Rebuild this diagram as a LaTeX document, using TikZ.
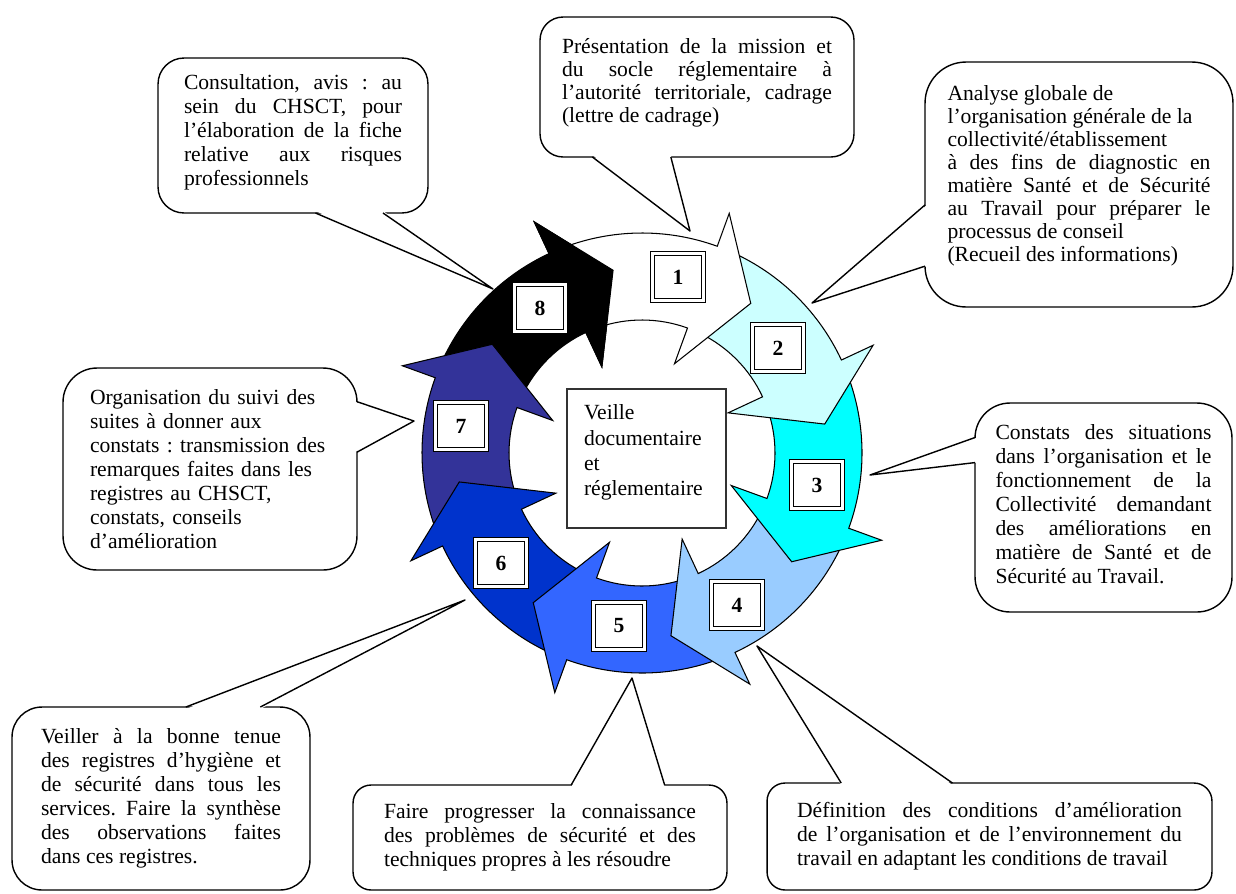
\documentclass[tikz,border=0pt]{standalone}
\usepackage{fontspec}
\setmainfont{Liberation Serif}
\usetikzlibrary{calc}
\definecolor{cyanpale}{HTML}{CCFFFF}
\definecolor{cyanvif}{HTML}{00FFFF}
\definecolor{bleuciel}{HTML}{99CCFF}
\definecolor{bleumoyen}{HTML}{3366FF}
\definecolor{bleufonce}{HTML}{0033CC}
\definecolor{indigo}{HTML}{333399}
\newcommand\texte{\fontsize{12.3}{13.6}\selectfont}
\newcommand\serre{\fontsize{12.3}{13.1}\selectfont}
\newcommand\remonte[1]{\par\kern#1\hrule height0pt width0pt}
\frenchspacing
\pretolerance=10000
\tolerance=10000
\hbadness=10000
\begin{document}
\begin{tikzpicture}[x=0.02cm, y=0.02cm,
  fleche/.style={draw=black, line width=0.6pt},
  bulle/.style={draw=black, fill=white, line width=0.8pt, align=justify, outer sep=0pt, inner ysep=0pt, font=\texte},
  pointe/.style={draw=black, line width=0.8pt, line join=round},
  numero/.style={draw=black, double=white, double distance=1.2pt, line width=0.8pt, fill=white, minimum width=1.02cm, minimum height=0.94cm, inner sep=0pt, font=\texte\bfseries}]
\useasboundingbox (0,0) rectangle (1236,-893);

% ring of arrows, drawn from 8 down to 1
\begin{scope}[shift={(642,-453)}]
\filldraw[fleche, fill=black] (154.5:220) arc[start angle=154.5, end angle=115, radius=220] -- (115:255) -- (99:185) -- (115:95) -- (115:133) arc[start angle=115, end angle=154.5, radius=133] -- cycle;
\filldraw[fleche, fill=indigo] (199.5:220) arc[start angle=199.5, end angle=160, radius=220] -- (160:255) -- (144:185) -- (160:95) -- (160:133) arc[start angle=160, end angle=199.5, radius=133] -- cycle;
\filldraw[fleche, fill=bleufonce] (244.5:220) arc[start angle=244.5, end angle=205, radius=220] -- (205:255) -- (189:185) -- (205:95) -- (205:133) arc[start angle=205, end angle=244.5, radius=133] -- cycle;
\filldraw[fleche, fill=bleumoyen] (289.5:220) arc[start angle=289.5, end angle=250, radius=220] -- (250:255) -- (234:185) -- (250:95) -- (250:133) arc[start angle=250, end angle=289.5, radius=133] -- cycle;
\filldraw[fleche, fill=bleuciel] (334.5:220) arc[start angle=334.5, end angle=295, radius=220] -- (295:255) -- (279:185) -- (295:95) -- (295:133) arc[start angle=295, end angle=334.5, radius=133] -- cycle;
\filldraw[fleche, fill=cyanvif] (19.5:220) arc[start angle=19.5, end angle=-20, radius=220] -- (-20:255) -- (-36:185) -- (-20:95) -- (-20:133) arc[start angle=-20, end angle=19.5, radius=133] -- cycle;
\filldraw[fleche, fill=cyanpale] (64.5:220) arc[start angle=64.5, end angle=25, radius=220] -- (25:255) -- (9:185) -- (25:95) -- (25:133) arc[start angle=25, end angle=64.5, radius=133] -- cycle;
\filldraw[fleche, fill=white] (109.5:220) arc[start angle=109.5, end angle=70, radius=220] -- (70:255) -- (54:185) -- (70:95) -- (70:133) arc[start angle=70, end angle=109.5, radius=133] -- cycle;
% head of 8 over the tail of 1
\filldraw[fleche, fill=black] (115:255) -- (99:185) -- (115:95) -- cycle;
\end{scope}

% centre
\node[draw=black!80, line width=0.6pt, fill=white, align=left, text width=2.5cm, inner xsep=0.34cm, minimum height=2.78cm, font=\fontsize{12.3}{14.35}\selectfont] (veille) at (646.5,-458.5) {Veille\\ documentaire\\ et\\ réglementaire\remonte{6.8pt}};

% numbers
\node[numero] (n1) at (678,-277) {1};
\node[numero] (n2) at (778,-348) {2};
\node[numero] (n3) at (817,-485) {3};
\node[numero] (n4) at (737,-605) {4};
\node[numero] (n5) at (619,-626) {5};
\node[numero] (n6) at (501,-563) {6};
\node[numero] (n7) at (461,-426) {7};
\node[numero] (n8) at (540,-308) {8};

% callouts
\node[bulle, rounded corners=0.52cm, text width=4.36cm, minimum width=5.4cm, minimum height=3.1cm, inner xsep=0.52cm] (consult) at (293,-135.5) {Consultation, avis : au\linebreak sein du CHSCT, pour\linebreak l’élaboration  de la fiche\linebreak relative aux risques\linebreak professionnels\remonte{3.4pt}};
\coordinate (pA) at (493,-289);
\coordinate (consult-a) at ($(consult.south west)!7/12!(consult.south east)$);
\coordinate (consult-b) at ($(consult.south west)!10/12!(consult.south east)$);
\fill[white] ($(consult-a)+(0,2)$) -- (pA) -- ($(consult-b)+(0,2)$) -- cycle;
\draw[pointe] (consult-a) -- (pA) -- (consult-b);

\node[bulle, font=\serre, rounded corners=0.46cm, text width=5.4cm, minimum width=6.28cm, minimum height=2.8cm, inner xsep=0.44cm] (cadrage) at (697,-87) {Présentation de la mission et\linebreak du socle réglementaire à\linebreak l’autorité territoriale, cadrage\linebreak (lettre de cadrage)\remonte{4.5pt}};
\coordinate (pB) at (690,-231);
\coordinate (cadrage-a) at ($(cadrage.south west)!2/12!(cadrage.south east)$);
\coordinate (cadrage-b) at ($(cadrage.south west)!5/12!(cadrage.south east)$);
\fill[white] ($(cadrage-a)+(0,2)$) -- (pB) -- ($(cadrage-b)+(0,2)$) -- cycle;
\draw[pointe] (cadrage-a) -- (pB) -- (cadrage-b);

\node[bulle, font=\serre, rounded corners=0.82cm, text width=5.26cm, minimum width=6.16cm, minimum height=4.9cm, inner xsep=0.45cm] (analyse) at (1079,-184.5) {Analyse globale de\newline l’organisation générale de la\newline collectivité/établissement\newline à des fins de diagnostic en\linebreak matière Santé et de Sécurité\linebreak au Travail pour préparer le\linebreak processus de conseil\newline (Recueil des informations)\remonte{10.2pt}};
\coordinate (pC) at (812,-303);
\coordinate (analyse-a) at ($(analyse.north west)!7/12!(analyse.south west)$);
\coordinate (analyse-b) at ($(analyse.north west)!10/12!(analyse.south west)$);
\fill[white] ($(analyse-a)+(2,0)$) -- (pC) -- ($(analyse-b)+(2,0)$) -- cycle;
\draw[pointe] (analyse-a) -- (pC) -- (analyse-b);

\node[bulle, rounded corners=0.7cm, text width=4.32cm, minimum width=5.14cm, minimum height=4.18cm, inner xsep=0.41cm] (constats) at (1103.5,-507.5) {Constats des situations\linebreak dans l’organisation et le\linebreak fonctionnement de la\linebreak Collectivité demandant\linebreak des améliorations en\linebreak matière de Santé et de\linebreak Sécurité au Travail.\remonte{4pt}};
\coordinate (pD) at (870,-475);
\coordinate (constats-a) at ($(constats.north west)!0.165!(constats.south west)$);
\coordinate (constats-b) at ($(constats.north west)!0.285!(constats.south west)$);
\fill[white] ($(constats-a)+(2,0)$) -- (pD) -- ($(constats-b)+(2,0)$) -- cycle;
\draw[pointe] (constats-a) -- (pD) -- (constats-b);

\node[bulle, rounded corners=0.36cm, text width=7.7cm, minimum width=8.9cm, minimum height=2.14cm, inner xsep=0.6cm] (definition) at (989.5,-836.5) {Définition des conditions d’amélioration\linebreak de l’organisation et de l’environnement du\linebreak travail en adaptant les conditions de travail};
\coordinate (pE) at (757,-646);
\coordinate (definition-a) at ($(definition.north west)!2/12!(definition.north east)$);
\coordinate (definition-b) at ($(definition.north west)!5/12!(definition.north east)$);
\fill[white] ($(definition-a)+(0,-2)$) -- (pE) -- ($(definition-b)+(0,-2)$) -- cycle;
\draw[pointe] (definition-a) -- (pE) -- (definition-b);

\node[bulle, rounded corners=0.36cm, text width=6.24cm, minimum width=7.48cm, minimum height=2.1cm, inner xsep=0.62cm] (progres) at (540,-837.5) {Faire progresser la connaissance\linebreak des problèmes de sécurité et des\linebreak techniques propres à les résoudre};
\coordinate (pF) at (632,-678);
\coordinate (progres-a) at ($(progres.north west)!7/12!(progres.north east)$);
\coordinate (progres-b) at ($(progres.north west)!10/12!(progres.north east)$);
\fill[white] ($(progres-a)+(0,-2)$) -- (pF) -- ($(progres-b)+(0,-2)$) -- cycle;
\draw[pointe] (progres-a) -- (pF) -- (progres-b);

\node[bulle, rounded corners=0.6cm, text width=4.8cm, minimum width=5.96cm, minimum height=3.66cm, inner xsep=0.58cm] (registres) at (161,-798.5) {Veiller à la bonne tenue\linebreak des registres d’hygiène et\linebreak de sécurité dans tous les\linebreak services. Faire la synthèse\linebreak des observations faites\linebreak dans ces registres.};
\coordinate (pG) at (465,-600);
\coordinate (registres-a) at ($(registres.north west)!7/12!(registres.north east)$);
\coordinate (registres-b) at ($(registres.north west)!10/12!(registres.north east)$);
\fill[white] ($(registres-a)+(0,-2)$) -- (pG) -- ($(registres-b)+(0,-2)$) -- cycle;
\draw[pointe] (registres-a) -- (pG) -- (registres-b);

\node[bulle, align=left, rounded corners=0.68cm, text width=4.8cm, minimum width=5.88cm, minimum height=4.04cm, inner xsep=0.54cm] (suivi) at (210,-469) {Organisation du suivi des\\ suites à donner aux\\ constats : transmission des\\ remarques faites dans les\\ registres au CHSCT,\\ constats, conseils\\ d’amélioration};
\coordinate (pH) at (414,-421);
\coordinate (suivi-a) at ($(suivi.north east)!2/12!(suivi.south east)$);
\coordinate (suivi-b) at ($(suivi.north east)!5/12!(suivi.south east)$);
\fill[white] ($(suivi-a)+(-2,0)$) -- (pH) -- ($(suivi-b)+(-2,0)$) -- cycle;
\draw[pointe] (suivi-a) -- (pH) -- (suivi-b);
\end{tikzpicture}
\end{document}
